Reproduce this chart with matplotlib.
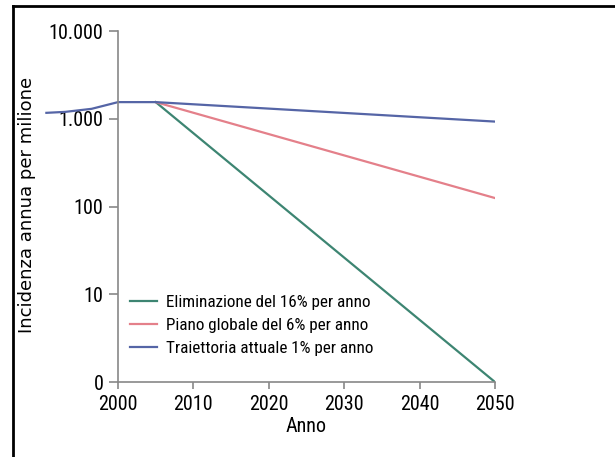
import matplotlib
matplotlib.use("Agg")
import matplotlib.pyplot as plt
from matplotlib import font_manager
from matplotlib.lines import Line2D

# pick a narrow face if one is installed
installed = {f.name for f in font_manager.fontManager.ttflist}
narrow = [n for n in ["Liberation Sans Narrow", "DejaVu Sans Condensed",
                      "Roboto Condensed", "Open Sans Condensed", "Roboto"]
          if n in installed]
plt.rcParams["font.family"] = narrow[:1] + ["DejaVu Sans"]

# data
years_current = [1990.5, 1993, 1996.5, 2000, 2005, 2050]
current = [1170, 1200, 1300, 1550, 1550, 930]
years_plan = [2005, 2050]
plan = [1550, 125]
years_elim = [2005, 2050]
elim = [1550, 1]

labels = [
    "Eliminazione del 16% per anno",
    "Piano globale del 6% per anno",
    "Traiettoria attuale 1% per anno",
]
colors = ["#3d8572", "#e4808a", "#5565a6"]

y_ticks = [1, 10, 100, 1000, 10000]
y_ticklabels = ["0", "10", "100", "1.000", "10.000"]
x_ticks = [2000, 2010, 2020, 2030, 2040, 2050]

fig = plt.figure(figsize=(6.15, 4.57), dpi=100)
ax = fig.add_axes([0.0693, 0.164, 0.7356, 0.768])

ax.plot(years_elim, elim, color=colors[0], lw=1.6)
ax.plot(years_plan, plan, color=colors[1], lw=1.6)
ax.plot(years_current, current, color=colors[2], lw=1.6)

ax.set_yscale("log")
ax.set_xlim(1990, 2050)
ax.set_ylim(1, 10000)
ax.set_yticks(y_ticks)
ax.set_yticklabels(y_ticklabels)
ax.minorticks_off()
ax.set_xticks(x_ticks)
ax.tick_params(labelsize=14.5, color="#888888", width=1.2)
ax.tick_params(axis="y", length=6.5, pad=4)
ax.tick_params(axis="x", length=5, pad=4)

for side in ["top", "right"]:
    ax.spines[side].set_visible(False)
ax.spines["left"].set_position(("data", 2000))
ax.spines["bottom"].set_bounds(2000, 2050)
for side in ["left", "bottom"]:
    ax.spines[side].set_color("#888888")
    ax.spines[side].set_linewidth(1.2)
ax.patch.set_visible(False)

ax.set_xlabel("Anno", fontsize=14.5)
ax.xaxis.set_label_coords(0.583, -0.1)
fig.text(0.044, 0.551, "Incidenza annua per milione", rotation=90,
         fontsize=13, family="DejaVu Sans", ha="center", va="center")

handles = [Line2D([], [], color=c, lw=1.6) for c in colors]
ax.legend(handles, labels, loc="lower left", bbox_to_anchor=(0.193, 0.075),
          frameon=False, fontsize=12.3, handlelength=1.6, labelspacing=0.45,
          handletextpad=0.5, borderpad=0, borderaxespad=0)

# frame around the figure (left and top only)
fig.add_artist(Line2D([0.021, 0.021], [0.0, 0.987], color="black", lw=2,
                      transform=fig.transFigure))
fig.add_artist(Line2D([0.021, 1.0], [0.987, 0.987], color="black", lw=2,
                      transform=fig.transFigure))

fig.savefig("out.png", dpi=100)
